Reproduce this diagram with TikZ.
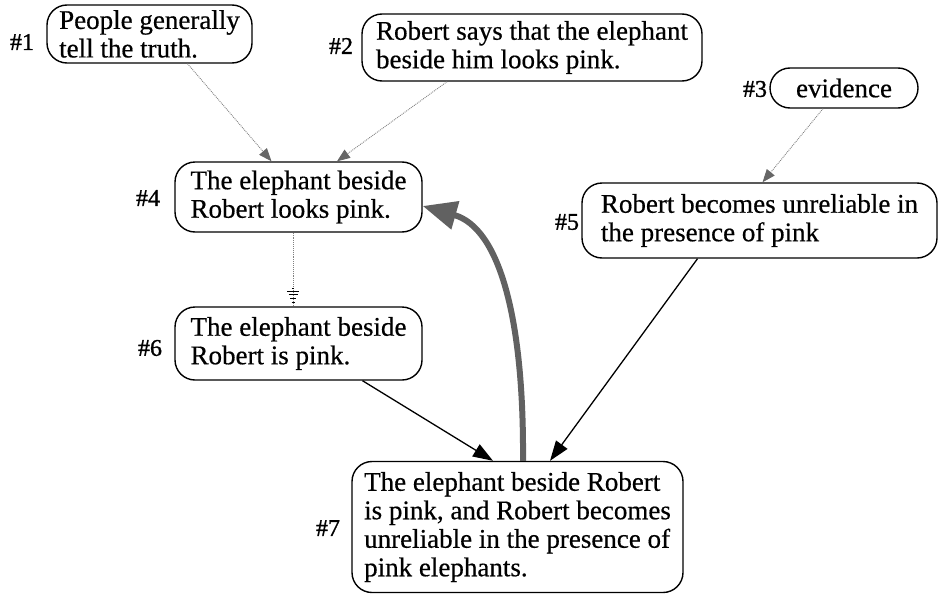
\documentclass[tikz,border=0pt]{standalone}
\usepackage{fontspec}
\setmainfont{Liberation Serif}
\newfontfamily\claimfont{Liberation Serif}[FakeBold=0.5]
\newfontfamily\tagfont{Liberation Serif}[FakeBold=1.2]
\usetikzlibrary{arrows.meta,calc}

\tikzset{
  claim/.style={draw, line width=1.4pt, rounded corners=20pt, align=left,
    inner sep=0pt, font=\claimfont\fontsize{27}{28.5}\selectfont},
  tag/.style={font=\tagfont\fontsize{24}{25}\selectfont, inner sep=0pt},
  support/.style={gray, densely dotted, line width=0.9pt,
    -{Triangle[length=13pt,width=10pt,fill=black!60,color=black!60]}},
  infer/.style={black, line width=1.3pt, -{Triangle[length=20pt,width=14pt]}},
  defeat/.style={black!62, line width=6pt,
    -{Triangle[length=34pt,width=28pt]}},
  bar/.style={black, line width=1.2pt}
}

\begin{document}
\begin{tikzpicture}[x=1pt,y=-1pt]
\useasboundingbox (0,0) rectangle (941,594);

% claims
\node[claim, minimum width=205pt, minimum height=58pt] (n1) at (149.5,34)
  {People generally\\tell the truth.};
\node[claim, minimum width=340pt, minimum height=67pt] (n2) at (532,47.5)
  {Robert says that the elephant\\beside him looks pink.};
\node[claim, minimum width=148pt, minimum height=40pt] (n3) at (844,88)
  {evidence};
\node[claim, minimum width=247pt, minimum height=70pt] (n4) at (298.5,197)
  {The elephant beside\\Robert looks pink.};
\node[claim, minimum width=355pt, minimum height=75pt] (n5) at (759.5,220.5)
  {Robert becomes unreliable in\\the presence of pink};
\node[claim, minimum width=247pt, minimum height=73pt] (n6) at (298.5,343.5)
  {The elephant beside\\Robert is pink.};
\node[claim, minimum width=331pt, minimum height=131pt] (n7) at (517.5,527)
  {The elephant beside Robert\\is pink, and Robert becomes\\unreliable in the presence of\\pink elephants.};

% numbers
\node[tag] (t1) at (22,42) {\#1};
\node[tag] (t2) at (341,46) {\#2};
\node[tag] (t3) at (755,89) {\#3};
\node[tag] (t4) at (148,198) {\#4};
\node[tag] (t5) at (567,222) {\#5};
\node[tag] (t6) at (150,348) {\#6};
\node[tag] (t7) at (328,528) {\#7};

% reasons
\draw[support] ([xshift=38pt]n1.south) -- ([xshift=-27pt]n4.north);
\draw[support] ([xshift=-85pt]n2.south) -- ([xshift=38.5pt]n4.north);
\draw[support] ([xshift=-21pt]n3.south) -- ([xshift=3pt]n5.north);

% undercut link with ground-style end mark
\draw[gray, densely dotted, line width=0.9pt]
  ([xshift=-5.5pt]n4.south) -- ([xshift=-5.5pt]n6.north)
  coordinate[pos=0.8] (m46);
\draw[bar] ($(m46)+(-1,-3)$) -- ($(m46)+(1,-3)$);
\draw[bar] ($(m46)+(-6,0)$) -- ($(m46)+(6,0)$);
\draw[bar] ($(m46)+(-4.5,3)$) -- ($(m46)+(4.5,3)$);
\draw[bar] ($(m46)+(-3,7)$) -- ($(m46)+(3,7)$);
\draw[bar] ($(m46)+(-1.5,11)$) -- ($(m46)+(1.5,11)$);

% inferences
\draw[infer] ([xshift=64pt]n6.south) -- ([xshift=-24.5pt]n7.north);
\draw[infer] ([xshift=-62pt]n5.south) -- ([xshift=32.5pt]n7.north);

% defeating link back to #4
\draw[defeat] ([xshift=5.5pt]n7.north)
  .. controls (524,320) and (500,228) .. ([yshift=-9pt]n4.east);
\end{tikzpicture}
\end{document}
